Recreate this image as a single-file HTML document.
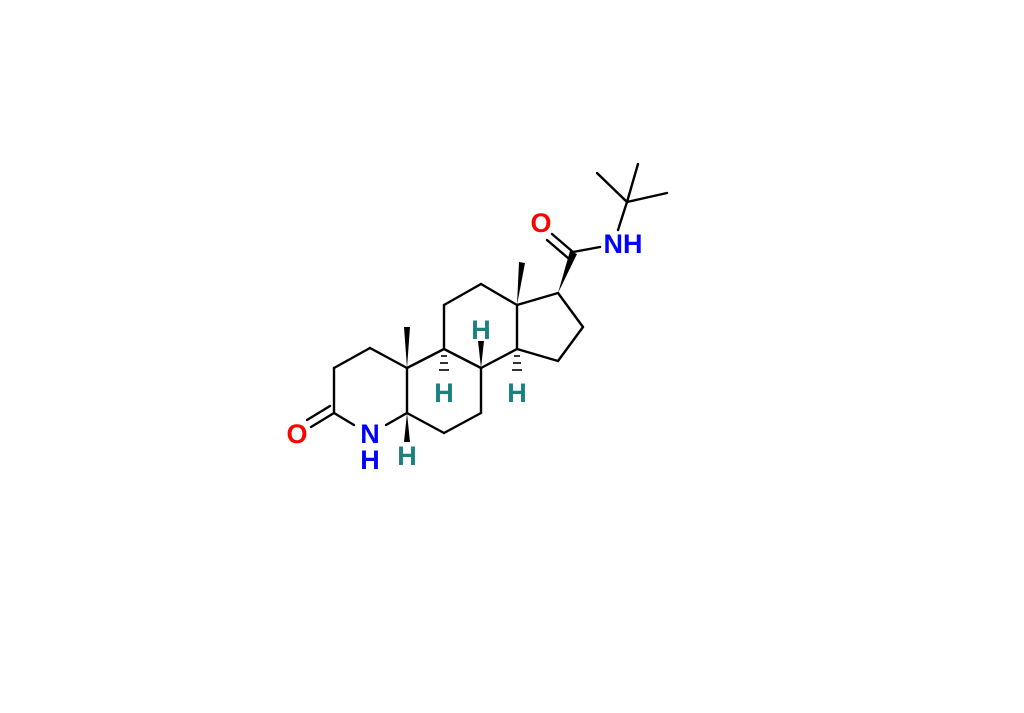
<!DOCTYPE html>
<html><head><style>body{margin:0;background:#fff}svg{display:block}</style></head><body>
<svg width="1024" height="713" viewBox="0 0 1024 713" xmlns="http://www.w3.org/2000/svg">
<g stroke="#000" stroke-width="2.4" fill="none" stroke-linecap="round">
<line x1="334" y1="413" x2="334" y2="368"/>
<line x1="334" y1="368" x2="370" y2="348"/>
<line x1="370" y1="348" x2="407" y2="368"/>
<line x1="407" y1="368" x2="407" y2="413"/>
<line x1="407" y1="413" x2="386" y2="425"/>
<line x1="334" y1="413" x2="354" y2="425"/>
<line x1="334" y1="413" x2="311" y2="427"/>
<line x1="330" y1="406" x2="307" y2="420"/>
<line x1="407" y1="368" x2="444" y2="349"/>
<line x1="444" y1="349" x2="481" y2="368"/>
<line x1="481" y1="368" x2="481" y2="413"/>
<line x1="481" y1="413" x2="444" y2="433"/>
<line x1="444" y1="433" x2="407" y2="413"/>
<line x1="444" y1="349" x2="444" y2="305"/>
<line x1="444" y1="305" x2="481" y2="284"/>
<line x1="481" y1="284" x2="517" y2="305"/>
<line x1="517" y1="305" x2="517" y2="349"/>
<line x1="517" y1="349" x2="481" y2="368"/>
<line x1="517" y1="305" x2="558" y2="293"/>
<line x1="558" y1="293" x2="583" y2="327"/>
<line x1="583" y1="327" x2="558" y2="361"/>
<line x1="558" y1="361" x2="517" y2="349"/>
<line x1="573" y1="252" x2="600" y2="247"/>
<line x1="573" y1="252" x2="552" y2="234"/>
<line x1="568" y1="258" x2="547" y2="240"/>
<line x1="618" y1="230" x2="627" y2="202"/>
<line x1="627" y1="202" x2="597" y2="173"/>
<line x1="627" y1="202" x2="638" y2="164"/>
<line x1="627" y1="202" x2="667" y2="193"/>
</g>
<g fill="#000">
<polygon points="407,368 404,327 410,327"/>
<polygon points="517,305 519,262 525,263"/>
<polygon points="481,368 478,341 484,341"/>
<polygon points="407,413 404,442 410,442"/>
<polygon points="558,293 570,251 577,254"/>
</g>
<g stroke="#000" stroke-width="1.6">
<line x1="441" y1="356" x2="447" y2="356"/><line x1="440" y1="363" x2="448" y2="363"/><line x1="439" y1="370" x2="449" y2="370"/>
<line x1="514" y1="356" x2="520" y2="356"/><line x1="513" y1="363" x2="521" y2="363"/><line x1="512" y1="370" x2="522" y2="370"/>
</g>
<g font-family="Liberation Sans, sans-serif" font-size="27" font-weight="bold" text-anchor="middle">
<text x="297" y="443" fill="#f00">O</text>
<text x="370" y="443" fill="#00f">N</text>
<text x="370" y="469" fill="#00f">H</text>
<text x="541" y="232" fill="#f00">O</text>
<text x="623" y="253" fill="#00f">NH</text>
<g fill="#1a8080">
<text x="407" y="465">H</text>
<text x="444" y="402">H</text>
<text x="481" y="339">H</text>
<text x="517" y="402">H</text>
</g>
</g>
</svg>
</body></html>
